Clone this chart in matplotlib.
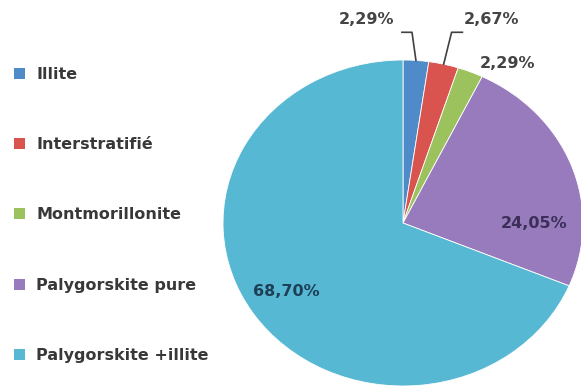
import numpy as np
import matplotlib.pyplot as plt
from matplotlib.patches import Patch

plt.rcParams['font.family'] = ['DejaVu Sans']

# composition minéralogique (%)
categories = ['Illite', 'Interstratifié', 'Montmorillonite',
              'Palygorskite pure', 'Palygorskite +illite']
values = [2.29, 2.67, 2.29, 24.05, 68.70]
colors = ['#4f8bc9', '#d9534f', '#9cc25e', '#977bbd', '#57b8d3']

# position des étiquettes (coordonnées de l'axe) et couleur du texte
label_pos = [(-0.20, 1.25), (0.49, 1.25), (0.58, 0.98), (0.73, 0.0), (-0.65, -0.42)]
label_col = ['#444444', '#444444', '#444444', '#3b2f57', '#1d4057']

fig = plt.figure(figsize=(5.81, 3.9), dpi=100)
ax = fig.add_axes([223 / 581, 4 / 390, 360 / 581, 326 / 390])

wedges, _ = ax.pie(values, colors=colors, startangle=90, counterclock=False,
                   wedgeprops=dict(linewidth=0.6, edgecolor='white'))
ax.set_aspect('auto')
ax.set_xlim(-1, 1)
ax.set_ylim(-1, 1)

for v, (x, y), c in zip(values, label_pos, label_col):
    ax.text(x, y, '{:.2f}%'.format(v).replace('.', ','), ha='center', va='center',
            fontsize=11.5, fontweight='bold', color=c, clip_on=False)

# lignes de rappel pour les deux premiers secteurs
elbows = [[(-0.006, 1.17), (0.05, 1.17)], [(0.33, 1.17), (0.27, 1.17)]]
for w, pts in zip(wedges[:2], elbows):
    a = np.deg2rad((w.theta1 + w.theta2) / 2)
    xs = [p[0] for p in pts] + [np.cos(a)]
    ys = [p[1] for p in pts] + [np.sin(a)]
    ax.plot(xs, ys, color='#404040', linewidth=1.2, clip_on=False)

handles = [Patch(facecolor=c, edgecolor='none') for c in colors]
fig.legend(handles, categories, loc='upper left', bbox_to_anchor=(0.0, 0.866),
           frameon=False, prop=dict(size=11.5, weight='bold'),
           handlelength=0.68, handleheight=0.68, handletextpad=0.7,
           labelspacing=3.47, labelcolor='#383838')

fig.savefig('out.png', dpi=100)
